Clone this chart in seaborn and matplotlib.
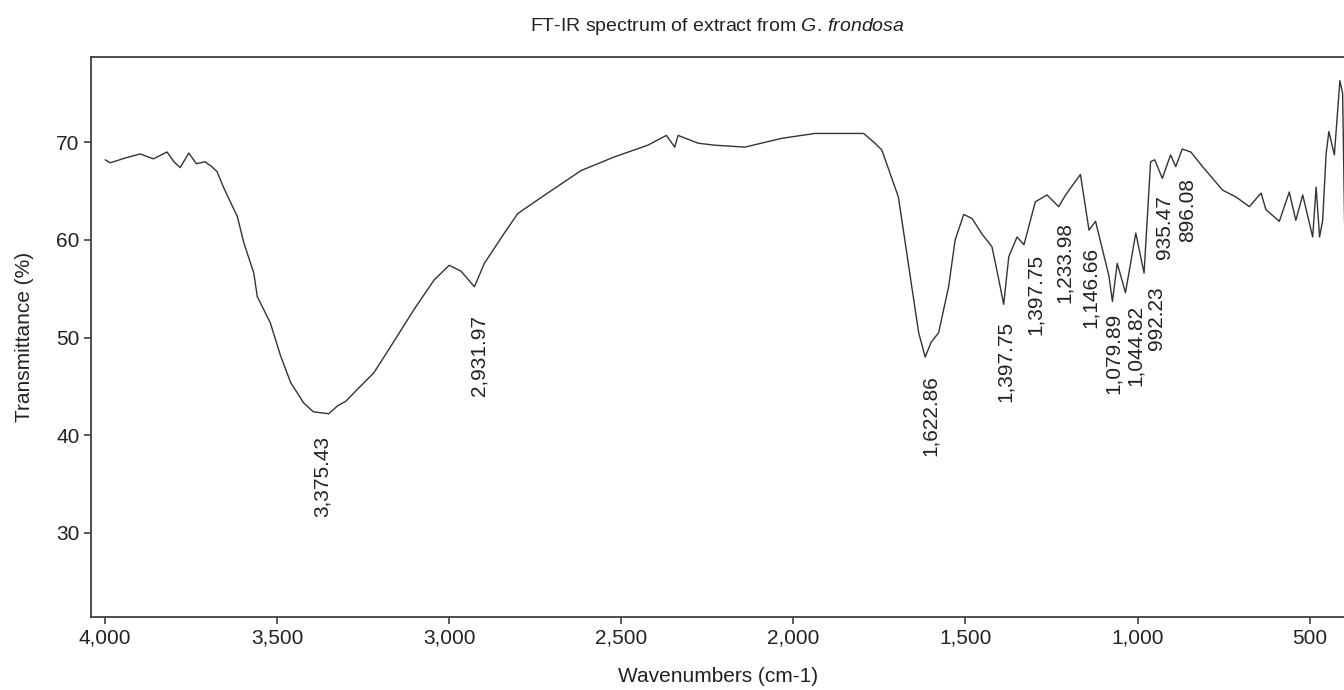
import matplotlib
matplotlib.use("Agg")
import matplotlib.pyplot as plt
import matplotlib.ticker as mticker
import pandas as pd
import seaborn as sns

# Spectrum (wavenumber, transmittance %)
wavenumber = [4000, 3985, 3940, 3898, 3860, 3820, 3800, 3782, 3757, 3735, 3710, 3690,
              3675, 3655, 3616, 3597, 3568, 3558, 3520, 3490, 3461, 3423, 3395, 3374,
              3350, 3325, 3300, 3267, 3219, 3170, 3102, 3044, 3000, 2966, 2927, 2898,
              2840, 2801, 2714, 2617, 2520, 2423, 2369, 2345, 2335, 2277, 2229, 2141,
              2034, 1937, 1796, 1763, 1743, 1719, 1695, 1675, 1656, 1636, 1617, 1600,
              1578, 1549, 1530, 1505, 1481, 1452, 1423, 1403, 1389, 1374, 1350, 1330,
              1297, 1263, 1229, 1209, 1166, 1141, 1122, 1083, 1073, 1059, 1035, 1005,
              981, 962, 950, 928, 904, 889, 870, 845, 811, 782, 753, 714, 675, 641,
              627, 588, 559, 540, 520, 491, 481, 471, 462, 452, 444, 428, 412, 404, 396]
transmittance = [68.2, 67.9, 68.4, 68.8, 68.3, 69.0, 68.0, 67.4, 68.9, 67.8, 68.0, 67.5,
                 67.0, 65.3, 62.4, 59.7, 56.6, 54.2, 51.5, 48.1, 45.4, 43.3, 42.4, 42.3,
                 42.2, 43.0, 43.5, 44.7, 46.4, 49.1, 52.9, 55.9, 57.4, 56.8, 55.2, 57.6,
                 60.7, 62.7, 64.8, 67.1, 68.5, 69.7, 70.7, 69.5, 70.7, 69.9, 69.7, 69.5,
                 70.4, 70.9, 70.9, 69.9, 69.2, 66.8, 64.4, 59.7, 55.2, 50.5, 48.0, 49.5,
                 50.5, 55.2, 60.0, 62.6, 62.2, 60.6, 59.3, 55.9, 53.4, 58.3, 60.3, 59.5,
                 63.9, 64.6, 63.4, 64.6, 66.7, 61.0, 61.9, 56.3, 53.7, 57.6, 54.6, 60.7,
                 56.6, 68.0, 68.2, 66.3, 68.7, 67.5, 69.3, 69.0, 67.5, 66.3, 65.1, 64.4,
                 63.4, 64.8, 63.1, 61.9, 64.9, 62.0, 64.6, 60.3, 65.4, 60.3, 62.0, 68.8,
                 71.1, 68.7, 76.3, 75.0, 56.6]

# Peak labels and where their tops sit (x, y in data units)
peak_labels = ["3,375.43", "2,931.97", "1,622.86", "1,397.75", "1,397.75", "1,233.98",
               "1,146.66", "1,079.89", "1,044.82", "992.23", "935.47", "896.08"]
label_x = [3369, 2913, 1602, 1384, 1297, 1214, 1137, 1069, 1007, 945, 923, 855]
label_y = [39.9, 52.3, 46.2, 51.7, 58.6, 61.8, 59.3, 52.5, 53.3, 55.2, 64.6, 66.3]

x_ticks = [4000, 3500, 3000, 2500, 2000, 1500, 1000, 500]
y_ticks = [30, 40, 50, 60, 70]

df = pd.DataFrame({"wavenumber": wavenumber, "transmittance": transmittance})

sns.set_style("ticks")
plt.rcParams["font.family"] = ["Liberation Sans", "DejaVu Sans"]
plt.rcParams["mathtext.fontset"] = "custom"
plt.rcParams["mathtext.rm"] = "Liberation Sans"
plt.rcParams["mathtext.it"] = "Liberation Sans:italic"

fig = plt.figure(figsize=(13.44, 6.9), dpi=100)
ax = fig.add_axes([0.068, 0.106, 0.932, 0.811])

sns.lineplot(data=df, x="wavenumber", y="transmittance", ax=ax,
             color="#333333", linewidth=1.0, estimator=None, sort=False)

for txt, x, y in zip(peak_labels, label_x, label_y):
    ax.text(x, y, txt, rotation=90, ha="center", va="top", fontsize=15, color="#222222")

ax.set_xlim(4040, 400)
ax.set_ylim(21.4, 78.7)
ax.set_xticks(x_ticks)
ax.set_yticks(y_ticks)
ax.xaxis.set_major_formatter(mticker.FuncFormatter(lambda v, p: f"{int(v):,}"))
ax.tick_params(labelsize=15, length=5, width=1.2, color="#404040", labelcolor="#222222")

for side in ["left", "bottom", "top"]:
    ax.spines[side].set_color("#404040")
    ax.spines[side].set_linewidth(1.3)
    ax.spines[side].set_visible(True)
ax.spines["right"].set_visible(False)

ax.set_xlabel("Wavenumbers (cm-1)", fontsize=15, color="#222222", labelpad=14)
ax.set_ylabel("Transmittance (%)", fontsize=15, color="#222222", labelpad=16)
ax.set_title(r"FT-IR spectrum of extract from $\it{G.\,frondosa}$",
             fontsize=14, color="#222222", pad=19)

fig.savefig("out.png", dpi=100)
